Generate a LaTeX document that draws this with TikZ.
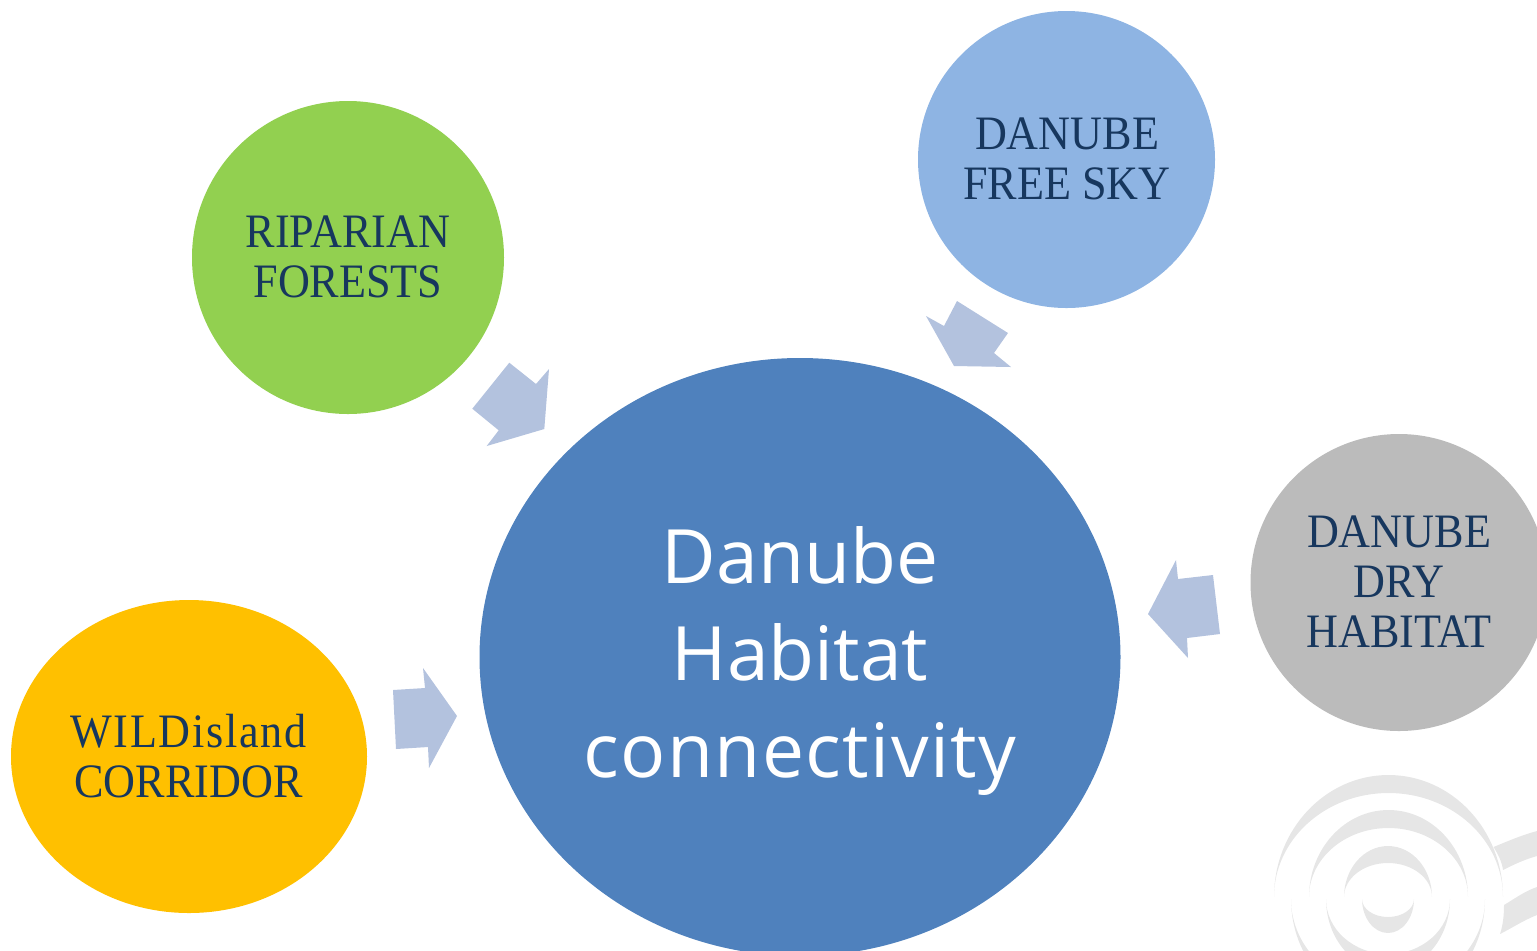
\documentclass[tikz,border=0pt]{standalone}
\usepackage{fontspec}
\newfontfamily\bubblefont[FakeStretch=0.92]{Liberation Serif}
\newfontfamily\widebubblefont[FakeStretch=0.92,LetterSpace=3.7]{Liberation Serif}
\newfontfamily\centrefont{Open Sans}
\newfontfamily\widecentrefont[LetterSpace=2]{Open Sans}
\usetikzlibrary{shapes.geometric}
\definecolor{mainblue}{HTML}{4F81BD}
\definecolor{skyblue}{HTML}{8EB4E3}
\definecolor{leafgreen}{HTML}{92D050}
\definecolor{dryg}{HTML}{BBBBBB}
\definecolor{amber}{HTML}{FFC000}
\definecolor{arrowblue}{HTML}{B3C2DE}
\definecolor{labelblue}{HTML}{17375E}
\definecolor{logogrey}{HTML}{E6E6E6}
\tikzset{
  bubble/.style={ellipse,inner sep=0pt,outer sep=0pt},
  bubbletext/.style={inner sep=0pt,align=center,text=labelblue,font=\bubblefont\fontsize{24}{25}\selectfont},
  hubtext/.style={inner sep=0pt,align=center,text=white,font=\centrefont\fontsize{37.5}{48.5}\selectfont},
  flow/.style={fill=arrowblue,draw=none},
  logo/.style={fill=logogrey,draw=none}
}
\begin{document}
\begin{tikzpicture}[x=0.5pt,y=-0.5pt]
\useasboundingbox (0,0) rectangle (1537,950);
\clip (0,0) rectangle (1537,950);
% logo, upper crescents
\fill[logo] (1274,897) arc[start angle=180,end angle=360,x radius=114.5,y radius=122]
  arc[start angle=360,end angle=180,x radius=114.5,y radius=104] -- cycle;
\fill[logo] (1309,897) arc[start angle=180,end angle=360,x radius=79.5,y radius=87]
  arc[start angle=360,end angle=180,x radius=79.5,y radius=69] -- cycle;
\fill[logo] (1344,897) arc[start angle=180,end angle=360,x radius=44,y radius=51]
  arc[start angle=360,end angle=180,x radius=44,y radius=34] -- cycle;
% logo, lower crescents
\fill[logo] (1362,899) arc[start angle=180,end angle=0,x radius=26,y radius=34]
  arc[start angle=0,end angle=180,x radius=26,y radius=18] -- cycle;
\fill[logo] (1326,899) arc[start angle=180,end angle=0,x radius=62,y radius=72]
  arc[start angle=0,end angle=180,x radius=62,y radius=55] -- cycle;
\fill[logo] (1291,899) arc[start angle=180,end angle=0,x radius=97,y radius=107]
  arc[start angle=0,end angle=180,x radius=97,y radius=90] -- cycle;
% logo, tail
\fill[logo] (1493.5,847) .. controls (1508,841) and (1522,835) .. (1537,831) -- (1537,856) .. controls (1523,860) and (1513,865) .. (1503,870) .. controls (1502,862) and (1498,854) .. (1493.5,847) -- cycle;
\fill[logo] (1504,905) .. controls (1514,899) and (1525,891) .. (1537,887) -- (1537,915) .. controls (1524,920) and (1512,928) .. (1500,934) .. controls (1503,925) and (1504,915) .. (1504,905) -- cycle;
% bubbles
\node[bubble,fill=mainblue,minimum width=320.5pt,minimum height=299pt] (hub) at (800,657) {};
\node[hubtext] (hubt) at (800,661) {Danube\\Habitat\\{\widecentrefont connectivity}};
\node[bubble,fill=leafgreen,minimum width=156pt,minimum height=156.5pt] (riparian) at (348,257.5) {};
\node[bubbletext] (ripariant) at (348,257) {RIPARIAN\\FORESTS};
\node[bubble,fill=skyblue,minimum width=148.5pt,minimum height=148.5pt] (sky) at (1066.5,159.5) {};
\node[bubbletext] (skyt) at (1067,158.5) {DANUBE\\FREE SKY};
\node[bubble,fill=dryg,minimum width=148.5pt,minimum height=148.5pt] (dry) at (1399,582.5) {};
\node[bubbletext] (dryt) at (1399,582) {DANUBE\\DRY\\HABITAT};
\node[bubble,fill=amber,minimum width=178pt,minimum height=156.5pt] (wild) at (189,756.5) {};
\node[bubbletext] (wildt) at (188.5,756) {{\widebubblefont WILDisland}\\CORRIDOR};
% block arrows
\fill[flow] (509.3,362.7) -- (536,384) -- (549,369) -- (544.3,429) -- (486.7,446) -- (498.7,430.3) -- (472.3,408.7) -- cycle;
\fill[flow] (957,301) -- (1008,333) -- (994,353) -- (1011,367) -- (954,366) -- (926,316) -- (944,326) -- cycle;
\fill[flow] (1213,575) -- (1220,634) -- (1187,638) -- (1188,658) -- (1148,614) -- (1176,560) -- (1178,579) -- cycle;
\fill[flow] (393,690) -- (425,688) -- (423,668) -- (457,716) -- (429,768) -- (428,747) -- (396,749) -- cycle;
\end{tikzpicture}
\end{document}
